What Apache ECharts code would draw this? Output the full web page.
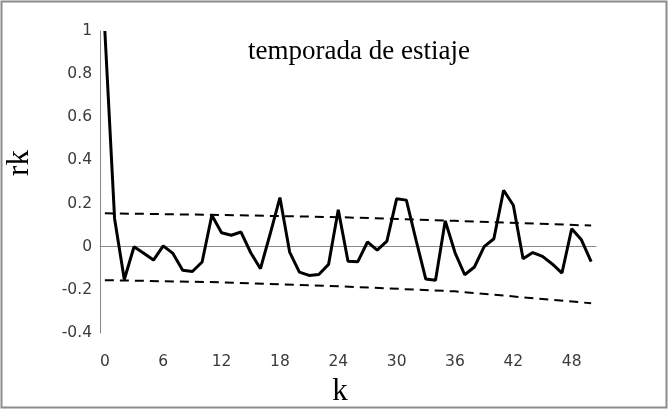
<!DOCTYPE html>
<html>
<head>
<meta charset="utf-8">
<script src="https://cdn.jsdelivr.net/npm/echarts@6/dist/echarts.min.js"></script>
<style>html,body{margin:0;padding:0;background:#fff}#c{width:669px;height:410px}</style>
</head>
<body>
<div id="c"></div>
<script>
const kCategories = ['0','1','2','3','4','5','6','7','8','9','10','11','12','13','14','15','16','17','18','19','20','21','22','23','24','25','26','27','28','29','30','31','32','33','34','35','36','37','38','39','40','41','42','43','44','45','46','47','48','49','50'];
const rk = [1, 0.13, -0.152, 0.0, -0.03, -0.062, 0.004, -0.031, -0.109, -0.115, -0.071, 0.146, 0.065, 0.053, 0.068, -0.028, -0.102, 0.06, 0.228, -0.025, -0.118, -0.133, -0.129, -0.082, 0.171, -0.067, -0.07, 0.022, -0.016, 0.026, 0.222, 0.216, 0.03, -0.15, -0.155, 0.12, -0.027, -0.13, -0.094, 0.0, 0.037, 0.262, 0.192, -0.056, -0.027, -0.045, -0.08, -0.122, 0.083, 0.032, -0.069];
const boundK = [0, 12, 24, 36, 50];
const upperBound = [0.155, 0.147, 0.137, 0.12, 0.098];
const lowerBound = [-0.155, -0.165, -0.183, -0.207, -0.262];
const yTicks = {min: -0.4, max: 1, interval: 0.2};
const titleText = 'temporada de estiaje';
const yName = 'rk';
const xName = 'k';

const chart = echarts.init(document.getElementById('c'), null, {renderer: 'canvas'});
const labelFont = {fontFamily: 'DejaVu Sans', fontSize: 15.5, color: '#3a3a3a'};
chart.setOption({
  animation: false,
  backgroundColor: '#fff',
  grid: {left: 100, top: 31, width: 496, height: 302, containLabel: false},
  xAxis: {type: 'category', data: kCategories, boundaryGap: true,
    axisLine: {lineStyle: {color: '#888', width: 1}}, axisTick: {show: false},
    axisLabel: Object.assign({interval: 5, margin: 21}, labelFont),
    splitLine: {show: false}},
  yAxis: {type: 'value', min: yTicks.min, max: yTicks.max, interval: yTicks.interval,
    axisLine: {show: true, lineStyle: {color: '#888', width: 1}}, axisTick: {show: false},
    axisLabel: Object.assign({margin: 8, formatter: v => String(Math.round(v * 10) / 10)}, labelFont),
    splitLine: {show: false}},
  graphic: [
    {type: 'rect', shape: {x: 1.5, y: 1.5, width: 665, height: 406}, style: {fill: 'none', stroke: '#8c8c8c', lineWidth: 2}, silent: true},
    {type: 'text', x: 359, y: 52, style: {text: titleText, font: '27px "Liberation Serif"', fill: '#000', textAlign: 'center', textVerticalAlign: 'middle'}},
    {type: 'text', x: 20, y: 163, rotation: Math.PI / 2, style: {text: yName, font: '31px "Liberation Serif"', fill: '#000', textAlign: 'center', textVerticalAlign: 'middle'}},
    {type: 'text', x: 340, y: 392, style: {text: xName, font: '31px "Liberation Serif"', fill: '#000', textAlign: 'center', textVerticalAlign: 'middle'}}
  ],
  series: [
    {type: 'line', data: rk, symbol: 'none', lineStyle: {color: '#000', width: 3}, z: 3},
    {type: 'line', data: boundK.map((k, i) => [k, upperBound[i]]), symbol: 'none',
      lineStyle: {color: '#000', width: 2, type: [9, 6]}, z: 2},
    {type: 'line', data: boundK.map((k, i) => [k, lowerBound[i]]), symbol: 'none',
      lineStyle: {color: '#000', width: 2, type: [9, 6]}, z: 2}
  ]
});
</script>
</body>
</html>
